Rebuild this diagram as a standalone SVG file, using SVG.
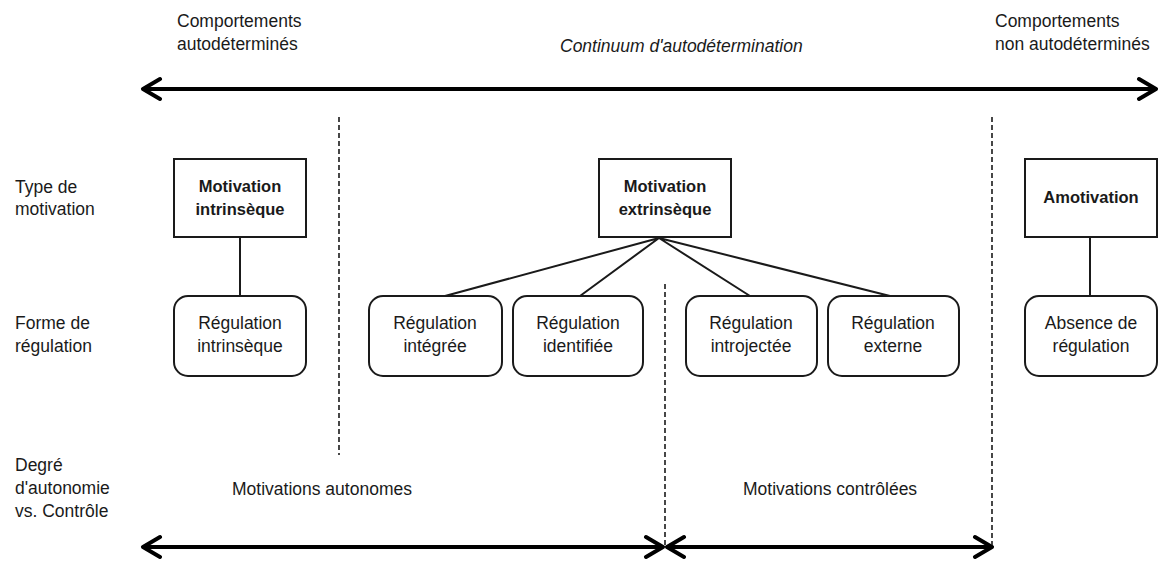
<svg xmlns="http://www.w3.org/2000/svg" width="1159" height="562" viewBox="0 0 1159 562">
<style>
text{font-family:"Liberation Sans",Arial,sans-serif;font-size:17.5px;fill:#1a1a1a}
.b{font-weight:bold;font-size:16.5px}
.c{text-anchor:middle}
.i{font-style:italic}
.box{fill:#fff;stroke:#1a1a1a;stroke-width:2}
.ln{stroke:#1a1a1a;stroke-width:2;fill:none}
.dash{stroke:#1a1a1a;stroke-width:1.6;stroke-dasharray:5 3;fill:none}
.arr{stroke:#000;stroke-width:4;fill:none;stroke-linecap:round;stroke-linejoin:round}
</style>
<rect width="1159" height="562" fill="#fff"/>
<g id="labels">
<text x="177" y="27">Comportements</text>
<text x="177" y="50">autodéterminés</text>
<text x="560" y="52" class="i">Continuum d'autodétermination</text>
<text x="995" y="27">Comportements</text>
<text x="995" y="50">non autodéterminés</text>
<text x="15" y="193">Type de</text>
<text x="15" y="215">motivation</text>
<text x="15" y="329">Forme de</text>
<text x="15" y="352">régulation</text>
<text x="15" y="471">Degré</text>
<text x="15" y="494">d'autonomie</text>
<text x="15" y="517">vs. Contrôle</text>
<text x="232" y="495">Motivations autonomes</text>
<text x="743" y="495">Motivations contrôlées</text>
</g>
<g id="connectors">
<path class="arr" d="M143 89H1156M160 79L143 89L160 99M1139 79L1156 89L1139 99"/>
<path class="arr" d="M143 547H663M160 537L143 547L160 557M646 537L663 547L646 557"/>
<path class="arr" d="M667 547H992M684 537L667 547L684 557M975 537L992 547L975 557"/>
<line class="dash" x1="339" y1="117" x2="339" y2="455"/>
<line class="dash" x1="665" y1="284" x2="665" y2="545"/>
<line class="dash" x1="992" y1="117" x2="992" y2="545"/>
<line class="ln" x1="240" y1="237" x2="240" y2="296"/>
<line class="ln" x1="1090" y1="237" x2="1090" y2="296"/>
<path class="ln" d="M659 238L445 296M659 238L580 296M659 238L750 296M659 238L890 296"/>
</g>
<g id="mot-intrinseque"><rect class="box" x="174" y="159" width="132" height="78"/><text class="b c" x="240" y="192">Motivation</text><text class="b c" x="240" y="215">intrinsèque</text></g>
<g id="mot-extrinseque"><rect class="box" x="599" y="159" width="132" height="78"/><text class="b c" x="665" y="192">Motivation</text><text class="b c" x="665" y="215">extrinsèque</text></g>
<g id="amotivation"><rect class="box" x="1025" y="159" width="132" height="78"/><text class="b c" x="1091" y="203">Amotivation</text></g>
<g id="reg-intrinseque"><rect class="box" x="174" y="296" width="132" height="80" rx="14"/><text class="c" x="240" y="329">Régulation</text><text class="c" x="240" y="352">intrinsèque</text></g>
<g id="reg-integree"><rect class="box" x="369" y="296" width="133" height="80" rx="14"/><text class="c" x="435" y="329">Régulation</text><text class="c" x="435" y="352">intégrée</text></g>
<g id="reg-identifiee"><rect class="box" x="513" y="296" width="130" height="80" rx="14"/><text class="c" x="578" y="329">Régulation</text><text class="c" x="578" y="352">identifiée</text></g>
<g id="reg-introjectee"><rect class="box" x="686" y="296" width="131" height="80" rx="14"/><text class="c" x="751" y="329">Régulation</text><text class="c" x="751" y="352">introjectée</text></g>
<g id="reg-externe"><rect class="box" x="828" y="296" width="131" height="80" rx="14"/><text class="c" x="893" y="329">Régulation</text><text class="c" x="893" y="352">externe</text></g>
<g id="absence"><rect class="box" x="1025" y="296" width="132" height="80" rx="14"/><text class="c" x="1091" y="329">Absence de</text><text class="c" x="1091" y="352">régulation</text></g>
</svg>
